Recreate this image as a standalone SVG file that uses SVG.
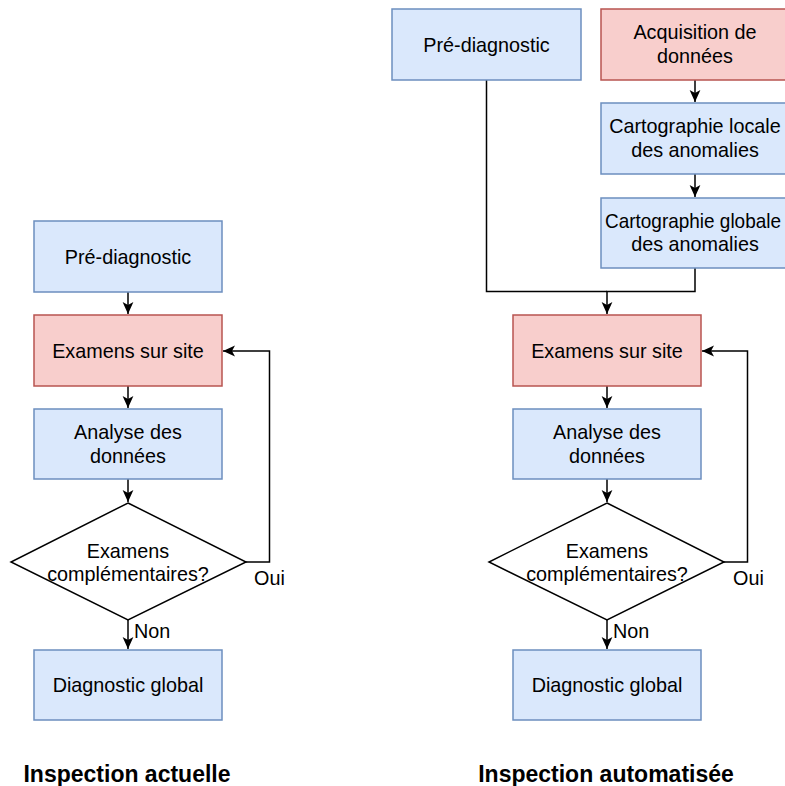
<svg xmlns="http://www.w3.org/2000/svg" width="785" height="786" viewBox="0 0 785 786">
<defs>
<marker id="arr" markerUnits="userSpaceOnUse" markerWidth="12" markerHeight="12" viewBox="0 0 10 10" refX="10" refY="5" orient="auto">
<path d="M0,0.5 L10,5 L0,9.5 L2.5,5 Z" fill="#000"/>
</marker>
<style>
.b{fill:#dae8fc;stroke:#6c8ebf;stroke-width:1.5}
.r{fill:#f8cecc;stroke:#b85450;stroke-width:1.5}
.d{fill:#fff;stroke:#000;stroke-width:1.5}
.t{font-family:"Liberation Sans",Arial,sans-serif;font-size:19.8px;fill:#000;text-anchor:middle}
.l{font-family:"Liberation Sans",Arial,sans-serif;font-size:19.8px;fill:#000}
.h{font-family:"Liberation Sans",Arial,sans-serif;font-size:23px;font-weight:bold;fill:#000;text-anchor:middle}
.c{fill:none;stroke:#000;stroke-width:1.5}
.a{marker-end:url(#arr)}
</style>
</defs>
<rect width="785" height="786" fill="#fff"/>
<g id="connectors">
<path class="c a" d="M128 292 V314"/>
<path class="c a" d="M128 386 V408"/>
<path class="c a" d="M128 479 V502"/>
<path class="c a" d="M128 620 V649"/>
<path class="c a" d="M246 562 H269.5 V351 H223"/>
<path class="c" d="M486.5 80 V291.5 H607"/>
<path class="c a" d="M695 268 V291.5 H607 V314"/>
<path class="c a" d="M695 80 V102"/>
<path class="c a" d="M695 174 V197"/>
<path class="c a" d="M607 386 V408"/>
<path class="c a" d="M607 479 V502"/>
<path class="c a" d="M607 620 V649"/>
<path class="c a" d="M724 562 H747.5 V351 H702"/>
<text class="l" x="254" y="585">Oui</text>
<text class="l" x="134" y="638">Non</text>
<text class="l" x="733" y="585">Oui</text>
<text class="l" x="613" y="638">Non</text>
</g>
<g id="l-prediag"><rect class="b" x="34" y="221" width="188" height="71"/><text class="t" x="128" y="263.5">Pré-diagnostic</text></g>
<g id="l-examens"><rect class="r" x="34" y="315" width="188" height="71"/><text class="t" x="128" y="357.5">Examens sur site</text></g>
<g id="l-analyse"><rect class="b" x="34" y="409" width="188" height="70"/><text class="t" x="128" y="438.5">Analyse des</text><text class="t" x="128" y="462.5">données</text></g>
<g id="l-decision"><path class="d" d="M128 503 L246 562 L128 620 L11 562 Z"/><text class="t" x="128" y="557.5">Examens</text><text class="t" x="128" y="581">complémentaires?</text></g>
<g id="l-diag"><rect class="b" x="34" y="650" width="188" height="70"/><text class="t" x="128" y="692">Diagnostic global</text></g>
<g id="r-prediag"><rect class="b" x="392" y="9" width="189" height="71"/><text class="t" x="486.5" y="51.5">Pré-diagnostic</text></g>
<g id="r-acq"><rect class="r" x="601" y="9" width="188" height="71"/><text class="t" x="695" y="39">Acquisition de</text><text class="t" x="695" y="62.5">données</text></g>
<g id="r-loc"><rect class="b" x="601" y="103" width="188" height="71"/><text class="t" x="695" y="133">Cartographie locale</text><text class="t" x="695" y="156.5">des anomalies</text></g>
<g id="r-glob"><rect class="b" x="601" y="198" width="188" height="70"/><text class="t" x="693" y="227.5" textLength="176" lengthAdjust="spacingAndGlyphs">Cartographie globale</text><text class="t" x="695" y="251">des anomalies</text></g>
<g id="r-examens"><rect class="r" x="513" y="315" width="188" height="71"/><text class="t" x="607" y="357.5">Examens sur site</text></g>
<g id="r-analyse"><rect class="b" x="513" y="409" width="188" height="70"/><text class="t" x="607" y="438.5">Analyse des</text><text class="t" x="607" y="462.5">données</text></g>
<g id="r-decision"><path class="d" d="M607 503 L724 562 L607 620 L489 562 Z"/><text class="t" x="607" y="557.5">Examens</text><text class="t" x="607" y="581">complémentaires?</text></g>
<g id="r-diag"><rect class="b" x="513" y="650" width="188" height="70"/><text class="t" x="607" y="692">Diagnostic global</text></g>
<g id="titles">
<text class="h" x="127" y="782">Inspection actuelle</text>
<text class="h" x="606" y="782">Inspection automatisée</text>
</g>
</svg>
